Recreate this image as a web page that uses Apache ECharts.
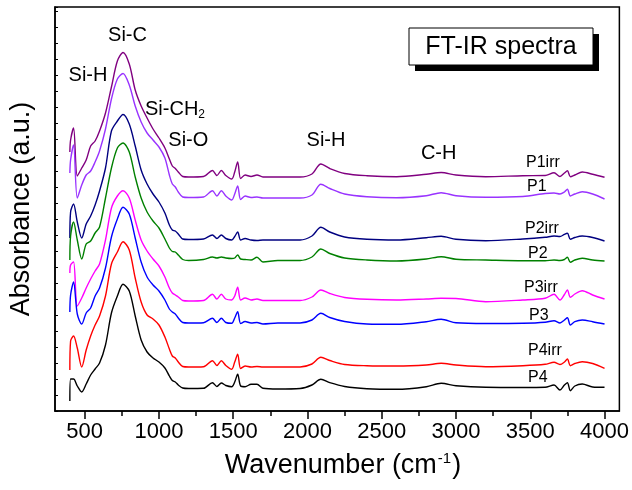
<!DOCTYPE html>
<html><head><meta charset="utf-8">
<script src="https://cdn.jsdelivr.net/npm/echarts@6/dist/echarts.min.js"></script>
<style>html,body{margin:0;padding:0;background:#fff}#c{width:632px;height:490px}</style>
</head><body><div id="c"></div>
<script>
const wavenumber = [400,405,425,450,480,510,540,570,600,640,680,720,758,800,840,880,920,960,1000,1040,1070,1090,1110,1130,1160,1200,1300,1360,1390,1420,1450,1490,1510,1530,1550,1580,1620,1660,1700,1800,1950,2030,2090,2150,2250,2400,2600,2800,2900,3000,3200,3450,3600,3660,3700,3730,3750,3770,3800,3850,3920,4000];

const P1irr = [259,271,283,235,243,251,265,270,280,298,324,350,358.5,347,321,305,293,282,273,263,252,245,242.5,239,234.5,234,234.5,240.5,235.5,240.5,235.5,232,239,249,232.5,236,234.5,236,234,234,234,237,247,242.5,237.5,235.3,234.3,236.7,238.5,236,234.3,235.3,235.5,238.3,234.5,238,240.3,234.3,236,239,236.7,233.7];
const P1 = [238,251,266,213,226,236,240,249,260,282,312,332,337.5,326,305,289,278,271,264,253,236,227,224,219,214,213.5,214,220.3,215,220.3,215,211,217,225,211.5,215,213.5,214,213,213,213,216,226.7,222.5,217,214.3,213.3,215.3,218.3,215.3,213.7,214.5,217.5,218,217,219,221.7,215,217,219.3,217,212];
const P2irr = [173,199,207,189,173,187,195,206,220,243,280,290,296.5,287,265,241,227,217,209,198,186,181,180,177,172,171.5,172,176,172.5,176,172.5,171,174.5,179,171,172.5,171,170.5,171,171,171,175,183.7,179,174,171.7,171,173.3,174.7,171.7,170.3,172,173.7,175,174.5,176.7,177.7,171.7,173.5,175,173.5,170];
const P2 = [151,175,189,171,152,167,170,178,184,213,243,263,268,259,234,213,199,190,183,172,163,159.5,159,156,151.5,150.5,151.5,154,153,154,153,152.5,153,156,152,151.5,151,153.7,149,150.5,150.5,154,162,157.5,153,151,150,152,154.3,151.7,151,150.3,150.3,151,150.5,151.5,153.7,148.7,151,152.7,151,150];
const P3irr = [138,146,149,105,113,123,132,140,147,171,203,215,220.3,213,191,171,160,152,145,134,123,118,116,114,110.5,110,110.5,116.7,112,116.7,112,111,115,123.7,111,113,111,112,110.5,110.5,110.5,114,121,117.5,113.5,111.7,111,112,112.7,112.5,109.3,111,112.7,116.7,111,116.5,121,113.7,117,120.3,116,112];
const P3 = [99,116,129,97,87,98,103,115,123,143,174,192,203.7,197,173,149,134,126,120,111,102,99,97,93,88.5,88,88.3,92.7,88.5,92.7,88.5,87.7,93,99.3,87.5,89.5,88,88.5,87,88,88,91,97.7,93.5,89.5,87,86.7,89.3,91.7,88.3,87.5,87.7,88.7,90.3,88,91,93.3,86,89.3,91,89.3,87];
const P4irr = [41,70,75,63,44,61,75,86,95,115,147,159,169.3,161,133,109,96,92,86,74,62,55,53,49,44.5,44,44.3,50.3,45.5,50.3,45.5,41.7,49,56.7,42.5,45,44,44.5,44,44,44,47,53.7,50.5,46.5,45.3,45,46,47.7,46,44.3,45.3,46.7,48.7,46.5,49,52,45.3,47.5,49.3,47.5,42.7];
const P4 = [10,32,32,25,19,27,36,42,48,66,98,115,126.7,120,95,71,59,53,49,43,35,30.5,29,26,23,22.5,22.7,28.3,24.5,28,25.5,24.3,29,36.7,25,24.3,26.7,26.7,22.7,22,22.5,26,31.7,28.3,24.5,22.3,21.7,24.3,27.7,25.3,23.7,23.5,23.7,26,21,26,28.3,20.3,25,27,24,23.7];

const seriesNames = ['P1irr','P1','P2irr','P2','P3irr','P3','P4irr','P4'];
const seriesData = [P1irr,P1,P2irr,P2,P3irr,P3,P4irr,P4];
const seriesColors = ['#800080','#9933FF','#000080','#008000','#FF00FF','#0000FF','#FF0000','#000000'];

const majorTicks = [500,1000,1500,2000,2500,3000,3500,4000];
const minorTicks = [750,1250,1750,2250,2750,3250,3750];

const FONT = '"Liberation Sans", Arial, sans-serif';
const chart = echarts.init(document.getElementById('c'), null, {renderer:'canvas'});

function txt(text, x, y, size, align) {
  return {type:'text', x:x, y:y, z:100, style:{text:text, font: size+'px '+FONT, fill:'#000', textAlign: align||'center', textVerticalAlign:'middle'}};
}

chart.setOption({
  animation:false,
  backgroundColor:'#fff',
  grid:{left:55, right:11, top:7, bottom:79, show:true, borderColor:'#000', borderWidth:1.5, backgroundColor:'transparent'},
  xAxis:[{
    type:'value', min:300, max:4100, position:'bottom',
    axisLine:{show:true, lineStyle:{color:'#000', width:1.5}},
    axisTick:{show:true, customValues:majorTicks, length:8, inside:false, lineStyle:{color:'#000', width:1.5}},
    axisLabel:{show:true, customValues:majorTicks, fontSize:22, fontFamily:FONT, color:'#000', margin:10, formatter:function(v){return String(v);}},
    splitLine:{show:false}
  },{
    type:'value', min:300, max:4100, position:'bottom',
    axisLine:{show:false},
    axisTick:{show:true, customValues:minorTicks, length:5, inside:false, lineStyle:{color:'#000', width:1.5}},
    axisLabel:{show:false},
    splitLine:{show:false}
  }],
  yAxis:{
    type:'value', min:0, max:404, interval:16,
    axisLine:{show:true, lineStyle:{color:'#000', width:1.5}},
    axisTick:{show:true, inside:true, length:3, lineStyle:{color:'#000', width:1}},
    axisLabel:{show:false},
    splitLine:{show:false}
  },
  series: seriesNames.map((n,i)=>({
    name:n, type:'line', xAxisIndex:0, showSymbol:false, smooth:0.3,
    data: wavenumber.map((w,j)=>[w, seriesData[i][j]]),
    lineStyle:{color:seriesColors[i], width:1.4},
    itemStyle:{color:seriesColors[i]}
  })),
  graphic:[
    {type:'text', x:22, y:209, rotation:Math.PI/2, z:100, style:{text:'Absorbance (a.u.)', font:'27px '+FONT, fill:'#000', textAlign:'center', textVerticalAlign:'middle'}},
    {type:'text', x:343, y:466, z:100, style:{
      text:'{a|Wavenumber (cm}{s|-1}{a|)}', textAlign:'center', textVerticalAlign:'middle',
      rich:{a:{font:'27px '+FONT, fill:'#000', color:'#000'}, s:{font:'15px '+FONT, color:'#000', fill:'#000', verticalAlign:'top', padding:[0,1,14,1]}}
    }},
    txt('Si-H', 88, 75, 20),
    txt('Si-C', 127.5, 35, 20),
    {type:'text', x:145, y:109.7, z:100, style:{text:'{a|Si-CH}{s|2}', textAlign:'left', textVerticalAlign:'middle',
      rich:{a:{font:'20px '+FONT, color:'#000'}, s:{font:'12px '+FONT, color:'#000', padding:[10,0,0,0]}}}},
    txt('Si-O', 188.3, 140, 20),
    txt('Si-H', 326, 140, 20),
    txt('C-H', 438.7, 153, 20),
    {type:'rect', z:90, shape:{x:415, y:34, width:184, height:37}, style:{fill:'#000'}},
    {type:'rect', z:91, shape:{x:409, y:28, width:184, height:37}, style:{fill:'#fff', stroke:'#000', lineWidth:1}},
    {type:'text', x:501, y:47, z:100, style:{text:'FT-IR spectra', font:'25px '+FONT, fill:'#000', textAlign:'center', textVerticalAlign:'middle'}},
    txt('P1irr', 526, 163, 16, 'left'),
    txt('P1', 527, 186.7, 16, 'left'),
    txt('P2irr', 525, 228.5, 16, 'left'),
    txt('P2', 528, 254, 16, 'left'),
    txt('P3irr', 524, 287.5, 16, 'left'),
    txt('P3', 529, 315.5, 16, 'left'),
    txt('P4irr', 528, 351, 16, 'left'),
    txt('P4', 528, 377.5, 16, 'left')
  ]
});
</script></body></html>
